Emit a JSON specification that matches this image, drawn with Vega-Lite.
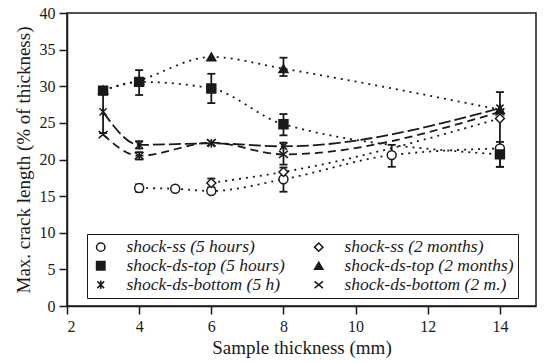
{
  "$schema": "https://vega.github.io/schema/vega-lite/v6.json",
  "autosize": "none",
  "width": 469,
  "height": 293,
  "padding": {"left": 67, "top": 13, "right": 8, "bottom": 57},
  "background": "white",
  "config": {
    "view": {"stroke": "#1a1a1a", "strokeWidth": 1.5},
    "font": "Liberation Serif",
    "axis": {
      "labelFont": "Liberation Serif", "titleFont": "Liberation Serif",
      "labelFontSize": 16, "titleFontSize": 19, "titleFontWeight": "normal",
      "labelColor": "#1a1a1a", "titleColor": "#1a1a1a",
      "domainColor": "#1a1a1a", "tickColor": "#1a1a1a", "domainWidth": 1.5, "tickWidth": 1.5,
      "tickSize": 8, "labelPadding": 4, "grid": false
    },
    "legend": {"strokeColor": "#1a1a1a", "fillColor": "white"}
  },
  "data": {"values": [
    {"s": "shock-ss (5 hours)", "x": 4, "y": 16.1, "lo": 15.6, "hi": 16.6},
    {"s": "shock-ss (5 hours)", "x": 5, "y": 16.0},
    {"s": "shock-ss (5 hours)", "x": 6, "y": 15.7},
    {"s": "shock-ss (5 hours)", "x": 8, "y": 17.3, "lo": 15.6, "hi": 18.9},
    {"s": "shock-ss (5 hours)", "x": 11, "y": 20.6, "lo": 19.0, "hi": 22.0},
    {"s": "shock-ss (5 hours)", "x": 14, "y": 21.5},
    {"s": "shock-ss (2 months)", "x": 6, "y": 16.8, "lo": 16.2, "hi": 17.4},
    {"s": "shock-ss (2 months)", "x": 8, "y": 18.3},
    {"s": "shock-ss (2 months)", "x": 14, "y": 25.6, "lo": 19.0, "hi": 29.2},
    {"s": "shock-ds-top (5 hours)", "x": 3, "y": 29.4, "lo": 28.9, "hi": 29.9},
    {"s": "shock-ds-top (5 hours)", "x": 4, "y": 30.6},
    {"s": "shock-ds-top (5 hours)", "x": 6, "y": 29.7, "lo": 27.7, "hi": 31.7},
    {"s": "shock-ds-top (5 hours)", "x": 8, "y": 24.8, "lo": 23.3, "hi": 26.2},
    {"s": "shock-ds-top (5 hours)", "x": 14, "y": 20.7, "lo": 19.0, "hi": 22.4},
    {"s": "shock-ds-top (2 months)", "x": 3, "y": 29.5},
    {"s": "shock-ds-top (2 months)", "x": 4, "y": 30.8, "lo": 28.8, "hi": 32.2},
    {"s": "shock-ds-top (2 months)", "x": 6, "y": 34.0},
    {"s": "shock-ds-top (2 months)", "x": 8, "y": 32.4, "lo": 31.4, "hi": 33.9},
    {"s": "shock-ds-top (2 months)", "x": 14, "y": 26.8},
    {"s": "shock-ds-bottom (5 h)", "x": 3, "y": 26.5, "lo": 23.6, "hi": 29.3},
    {"s": "shock-ds-bottom (5 h)", "x": 4, "y": 22.0, "lo": 21.5, "hi": 22.5},
    {"s": "shock-ds-bottom (5 h)", "x": 6, "y": 22.2},
    {"s": "shock-ds-bottom (5 h)", "x": 8, "y": 21.8},
    {"s": "shock-ds-bottom (5 h)", "x": 14, "y": 27.0},
    {"s": "shock-ds-bottom (2 m.)", "x": 3, "y": 23.4},
    {"s": "shock-ds-bottom (2 m.)", "x": 4, "y": 20.5, "lo": 20.0, "hi": 21.0},
    {"s": "shock-ds-bottom (2 m.)", "x": 6, "y": 22.3},
    {"s": "shock-ds-bottom (2 m.)", "x": 8, "y": 20.7, "lo": 19.3, "hi": 22.3},
    {"s": "shock-ds-bottom (2 m.)", "x": 14, "y": 26.5}
  ]},
  "encoding": {
    "x": {"field": "x", "type": "quantitative", "scale": {"domain": [2, 15], "nice": false},
          "axis": {"values": [2, 4, 6, 8, 10, 12, 14], "title": "Sample thickness (mm)", "titlePadding": 4}},
    "y": {"field": "y", "type": "quantitative", "scale": {"domain": [0, 40], "nice": false},
          "axis": {"values": [0, 5, 10, 15, 20, 25, 30, 35, 40], "title": "Max. crack length (% of thickness)", "titlePadding": 6}}
  },
  "layer": [
    {
      "transform": [{"filter": "isValid(datum.lo)"}],
      "mark": {"type": "rule", "color": "#1a1a1a", "strokeWidth": 1.8},
      "encoding": {"y": {"field": "lo", "type": "quantitative"}, "y2": {"field": "hi"}}
    },
    {
      "transform": [{"filter": "isValid(datum.lo)"}],
      "mark": {"type": "tick", "color": "#1a1a1a", "orient": "horizontal", "size": 8, "thickness": 1.8, "opacity": 1},
      "encoding": {"y": {"field": "lo", "type": "quantitative"}}
    },
    {
      "transform": [{"filter": "isValid(datum.hi)"}],
      "mark": {"type": "tick", "color": "#1a1a1a", "orient": "horizontal", "size": 8, "thickness": 1.8, "opacity": 1},
      "encoding": {"y": {"field": "hi", "type": "quantitative"}}
    },
    {
      "transform": [{"filter": "indexof(datum.s, 'bottom') < 0"}],
      "mark": {"type": "line", "color": "#1a1a1a", "strokeWidth": 1.8, "interpolate": "monotone", "strokeDash": [2, 5]},
      "encoding": {"detail": {"field": "s", "type": "nominal"}}
    },
    {
      "transform": [{"filter": "datum.s == 'shock-ds-bottom (5 h)'"}],
      "mark": {"type": "line", "color": "#1a1a1a", "strokeWidth": 1.8, "interpolate": "monotone", "strokeDash": [12, 4]},
      "encoding": {"detail": {"field": "s", "type": "nominal"}}
    },
    {
      "transform": [{"filter": "datum.s == 'shock-ds-bottom (2 m.)'"}],
      "mark": {"type": "line", "color": "#1a1a1a", "strokeWidth": 1.8, "interpolate": "monotone", "strokeDash": [8, 5]},
      "encoding": {"detail": {"field": "s", "type": "nominal"}}
    },
    {
      "mark": {"type": "point", "filled": false, "strokeWidth": 1.5, "opacity": 1, "size": 80},
      "encoding": {
        "shape": {"field": "s", "type": "nominal", "title": null,
          "legend": {"orient": "none", "legendX": 20, "legendY": 221, "columns": 2, "direction": "horizontal",
            "padding": 4, "strokeColor": "#1a1a1a", "fillColor": "white",
            "labelFont": "Liberation Serif", "labelFontStyle": "italic", "labelFontSize": 17.5,
            "labelColor": "#1a1a1a", "labelLimit": 300, "columnPadding": 24, "rowPadding": 0,
            "symbolSize": 70, "symbolOffset": 1, "symbolStrokeWidth": 1.5, "labelOffset": 17,
            "encode": {
              "legend": {"update": {"stroke": {"value": "#1a1a1a"}, "strokeWidth": {"value": 1.2}, "fill": {"value": "white"}}}
            }},
          "scale": {"domain": ["shock-ss (5 hours)", "shock-ss (2 months)", "shock-ds-top (5 hours)", "shock-ds-top (2 months)", "shock-ds-bottom (5 h)", "shock-ds-bottom (2 m.)"],
                    "range": ["circle", "diamond", "square", "triangle-up", "M-0.8,-0.8L0.8,0.8M-0.8,0.8L0.8,-0.8M0,-1L0,1", "M-1,-0.8L1,0.8M-1,0.8L1,-0.8"]}},
        "fill": {"field": "s", "type": "nominal", "title": null,
          "legend": {"orient": "none", "legendX": 20, "legendY": 221, "columns": 2, "direction": "horizontal",
            "padding": 4, "strokeColor": "#1a1a1a", "fillColor": "white",
            "labelFont": "Liberation Serif", "labelFontStyle": "italic", "labelFontSize": 17.5,
            "labelColor": "#1a1a1a", "labelLimit": 300, "columnPadding": 24, "rowPadding": 0,
            "symbolSize": 70, "symbolOffset": 1, "symbolStrokeWidth": 1.5, "labelOffset": 17,
            "encode": {
              "legend": {"update": {"stroke": {"value": "#1a1a1a"}, "strokeWidth": {"value": 1.2}, "fill": {"value": "white"}}}
            }},
          "scale": {"domain": ["shock-ss (5 hours)", "shock-ss (2 months)", "shock-ds-top (5 hours)", "shock-ds-top (2 months)", "shock-ds-bottom (5 h)", "shock-ds-bottom (2 m.)"],
                    "range": ["white", "white", "#1a1a1a", "#1a1a1a", "transparent", "transparent"]}},
        "stroke": {"field": "s", "type": "nominal", "title": null,
          "legend": {"orient": "none", "legendX": 20, "legendY": 221, "columns": 2, "direction": "horizontal",
            "padding": 4, "strokeColor": "#1a1a1a", "fillColor": "white",
            "labelFont": "Liberation Serif", "labelFontStyle": "italic", "labelFontSize": 17.5,
            "labelColor": "#1a1a1a", "labelLimit": 300, "columnPadding": 24, "rowPadding": 0,
            "symbolSize": 70, "symbolOffset": 1, "symbolStrokeWidth": 1.5, "labelOffset": 17,
            "encode": {
              "legend": {"update": {"stroke": {"value": "#1a1a1a"}, "strokeWidth": {"value": 1.2}, "fill": {"value": "white"}}}
            }},
          "scale": {"domain": ["shock-ss (5 hours)", "shock-ss (2 months)", "shock-ds-top (5 hours)", "shock-ds-top (2 months)", "shock-ds-bottom (5 h)", "shock-ds-bottom (2 m.)"],
                    "range": ["#1a1a1a", "#1a1a1b", "#1a1a1c", "#1a1a1d", "#1a1a1e", "#1a1a1f"]}}
      }
    }
  ]
}
